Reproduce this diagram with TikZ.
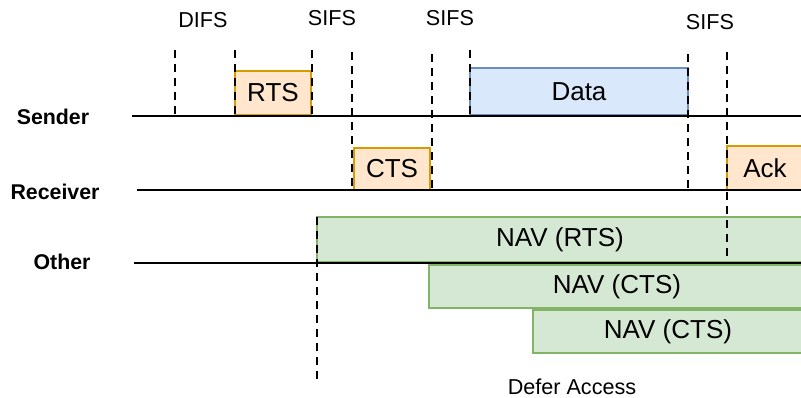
\documentclass[tikz,border=0pt]{standalone}
\usepackage{fontspec}
\setmainfont{Liberation Sans}
\definecolor{orfill}{HTML}{FFE6CC}
\definecolor{ordraw}{HTML}{D79B00}
\definecolor{blfill}{HTML}{DAE8FC}
\definecolor{bldraw}{HTML}{6C8EBF}
\definecolor{grfill}{HTML}{D5E8D4}
\definecolor{grdraw}{HTML}{82B366}
\tikzset{
  lbl/.style={font=\fontsize{16.2}{18}\selectfont, inner sep=0pt},
  rowlbl/.style={font=\fontsize{16}{18}\selectfont\bfseries, inner sep=0pt},
  boxbase/.style={draw, line width=1.5pt, inner sep=0pt, font=\fontsize{19.5}{22}\selectfont},
  orbox/.style={boxbase, fill=orfill, draw=ordraw},
  blbox/.style={boxbase, fill=blfill, draw=bldraw},
  grbox/.style={boxbase, fill=grfill, draw=grdraw},
  timeline/.style={line width=1.5pt, black},
  guide/.style={line width=1.5pt, black, dash pattern=on 6pt off 4.5pt},
}
\begin{document}
\begin{tikzpicture}[x=0.75pt, y=-0.75pt]
\clip (0,0) rectangle (801,398);
\fill[white] (0,0) rectangle (801,398);
% boxes
\node[orbox, minimum width=57pt, minimum height=33pt] (rts) at (273,93) {RTS};
\node[orbox, minimum width=57pt, minimum height=31.5pt] (cts) at (392,169) {CTS};
\node[blbox, minimum width=163.5pt, minimum height=35.25pt] (data) at (579,91.5) {Data};
\node[orbox, minimum width=57pt, minimum height=33pt] (ack) at (765,168) {Ack};
\node[grbox, minimum width=364.5pt, minimum height=33.75pt] (navrts) at (560,239.5) {NAV (RTS)};
\node[grbox, minimum width=282pt, minimum height=32.25pt] (navcts) at (617,286.5) {NAV (CTS)};
\node[grbox, minimum width=202.5pt, minimum height=32.25pt] (navcts2) at (668,331.5) {NAV (CTS)};
% row labels
\node[rowlbl] (sender) at (53,117) {Sender};
\node[rowlbl] (receiver) at (55,192) {Receiver};
\node[rowlbl] (other) at (62,262) {Other};
% top labels
\node[lbl] (difs) at (203,20) {DIFS};
\node[lbl] (sifsa) at (332,18) {SIFS};
\node[lbl] (sifsb) at (450,18) {SIFS};
\node[lbl] (sifsc) at (710,22) {SIFS};
\node[lbl] (defer) at (572,387) {Defer Access};
% timelines
\coordinate (s0) at (132,116); \coordinate (s1) at (801,116);
\coordinate (r0) at (137,190); \coordinate (r1) at (801,190);
\coordinate (o0) at (134,263); \coordinate (o1) at (801,263);
\draw[timeline] (s0) -- (s1);
\draw[timeline] (r0) -- (r1);
\draw[timeline] (o0) -- (o1);
% dashed guides
\foreach \n/\x/\ya/\yb in {ga/175/50/115, gb/235/50/115, gc/312/50/115, gd/352/52/190, ge/432/54/190, gf/470/50/115, gg/688/54/190, gh/727/52/262, gi/317/217/380} {
  \coordinate (\n-t) at (\x,\ya);
  \coordinate (\n-b) at (\x,\yb);
  \draw[guide] (\n-t) -- (\n-b);
}
\end{tikzpicture}
\end{document}
